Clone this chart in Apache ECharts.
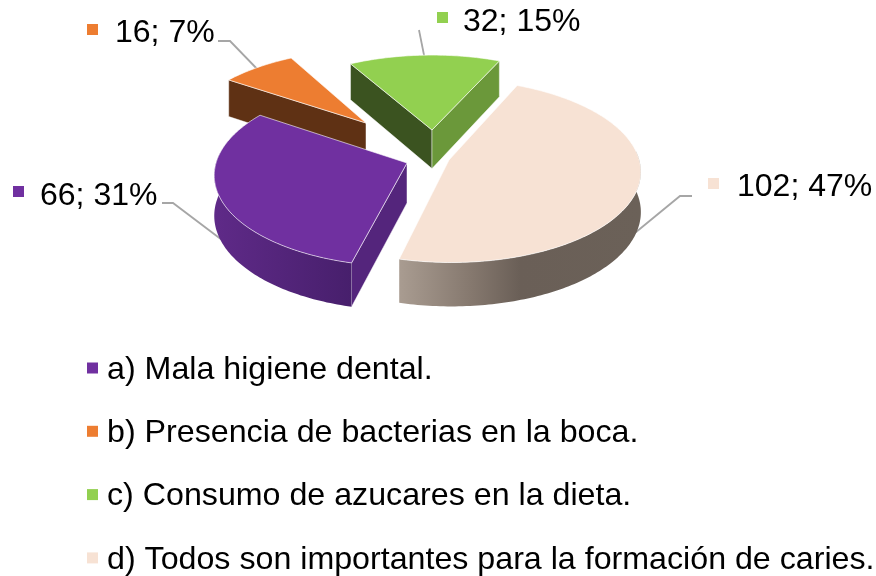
<!DOCTYPE html>
<html><head><meta charset="utf-8">
<style>html,body{margin:0;padding:0;background:#fff}#c{width:876px;height:576px}</style>
<script src="https://cdn.jsdelivr.net/npm/echarts@6/dist/echarts.min.js"></script>
</head><body><div id="c"></div>
<script>
// data
const categories = ['a) Mala higiene dental.','b) Presencia de bacterias en la boca.','c) Consumo de azucares en la dieta.','d) Todos son importantes para la formación de caries.'];
const values = [66,16,32,102];
// styles
const topColors = ['#7030A0','#ED7D31','#92D050','#F7E2D4'];
const startDeg = 194;
const FONT = '"Liberation Sans", Arial, sans-serif';
// layout (projection of the tilted disc and per-slice placement)
const view = {cx:432, cy:171, rx:193, ry:93, k:0.12};
const apexes = [[407,163],[366,123],[432,130],[449,160]];
const zOrder = [4,2,3,5];
const labelPos = [[40,196],[115,33],[463,22],[737,187]];
const markerPos = [[13,186],[87,24],[437,12],[708,178]];
const leaders = [
  [[162,203],[173,203],[226,243]],
  [[218,41],[230,41],[262,74]],
  [[419,30],[425,60]],
  [[692,196],[680,196],[630,237]]
];
const outerWall = [
  [[0,'#5F2A88'],[1,'#471F6C']],
  [[0,'#5F3114'],[1,'#5F3114']],
  [[0,'#6B983A'],[1,'#6B983A']],
  [[0,'#A99C91'],[0.3,'#85786E'],[0.5,'#6A5F57'],[1,'#6B6158']]
];
// radial walls: [wall on the start edge, wall on the end edge]
const radialWall = [['#54257C','#54257C'],['#5F3114','#5F3114'],['#3B5320','#6B983A'],['#665C54','#665C54']];

const total = values.reduce((a,b)=>a+b,0);
function unproject(x,y){
  const X=x-view.cx, Y=y-view.cy;
  const V=Y/(view.ry+view.k*Y), w=1-view.k*V;
  return [X*w/view.rx, V];
}
function project(U,V){
  const w=1-view.k*V;
  return [view.cx+view.rx*U/w, view.cy+view.ry*V/w];
}
function drop(p){ return [p[0], p[1]+36+0.04*(p[1]-65)]; }

function sliceRender(i){
  let before=0; for(let j=0;j<i;j++) before+=values[j];
  return function(params,api){
    const value=api.value(0);
    const a0=startDeg+before/total*360, a1=a0+value/total*360;
    const c=unproject(apexes[i][0],apexes[i][1]);
    const arc=[], front=[];
    const add=(t)=>{ const r=t*Math.PI/180; const p=project(c[0]+Math.sin(r),c[1]-Math.cos(r)); arc.push(p); if(Math.cos(r)<0.12) front.push(p); };
    for(let t=a0;t<a1;t+=1) add(t);
    add(a1);
    const apex=apexes[i];
    const first=arc[0], last=arc[arc.length-1];
    const quad=(p,q)=>[p,q,drop(q),drop(p)];
    const edge='rgba(255,255,255,0.6)';
    const children=[];
    children.push({type:'polyline',shape:{points:leaders[i]},style:{fill:null,stroke:'#A6A6A6',lineWidth:1.8},silent:true});
    children.push({type:'rect',shape:{x:markerPos[i][0],y:markerPos[i][1],width:11,height:11},style:{fill:topColors[i]},silent:true});
    children.push({type:'text',style:{x:labelPos[i][0],y:labelPos[i][1],text:value+'; '+Math.round(value/total*100)+'%',fill:'#000',font:'32px '+FONT,textAlign:'left',textVerticalAlign:'middle'},silent:true});
    if(first[0]<apex[0]) children.push({type:'polygon',shape:{points:quad(apex,first)},style:{fill:radialWall[i][0],stroke:edge,lineWidth:0.8},silent:true});
    if(last[0]>apex[0]) children.push({type:'polygon',shape:{points:quad(apex,last)},style:{fill:radialWall[i][1],stroke:edge,lineWidth:0.8},silent:true});
    if(front.length>1) children.push({type:'polygon',shape:{points:front.concat(front.map(drop).reverse())},
      style:{fill:new echarts.graphic.LinearGradient(0,0,1,0,outerWall[i].map(s=>({offset:s[0],color:s[1]})))},silent:true});
    children.push({type:'polygon',shape:{points:[apex].concat(arc)},style:{fill:topColors[i],stroke:edge,lineWidth:1},silent:true});
    return {type:'group',children};
  };
}

const chart=echarts.init(document.getElementById('c'),null,{renderer:'canvas'});
chart.setOption({
  animation:false,
  backgroundColor:'#fff',
  legend:{
    data:categories, orient:'vertical', left:87, top:354, padding:0,
    itemWidth:11, itemHeight:11, itemGap:31.3, icon:'rect', selectedMode:false,
    formatter:'{t|{name}}',
    textStyle:{fontFamily:FONT,fontSize:32.2,color:'#000',
      rich:{t:{fontFamily:FONT,fontSize:32.2,color:'#000',padding:[4,0,0,4]}}}
  },
  series:categories.map((name,i)=>({
    type:'custom', name, coordinateSystem:'none', z:zOrder[i],
    itemStyle:{color:topColors[i]},
    data:[[values[i]]], renderItem:sliceRender(i)
  }))
});
</script></body></html>
